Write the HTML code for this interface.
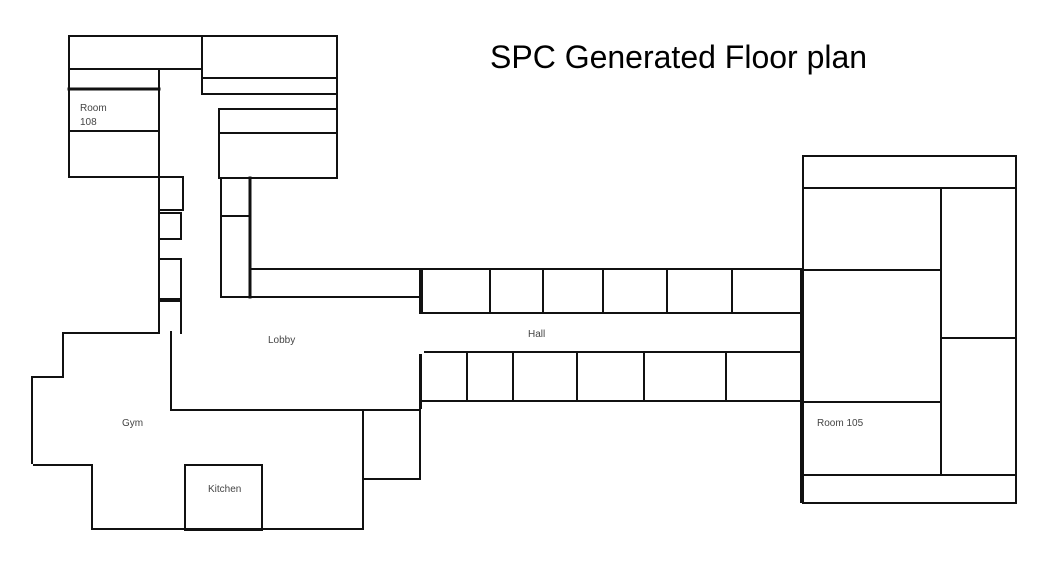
<!DOCTYPE html>
<html><head><meta charset="utf-8"><style>
html,body{margin:0;padding:0;background:#fff;}
svg{display:block}
text{font-family:"Liberation Sans",sans-serif;fill:#444;font-size:10px}
</style></head><body>
<svg width="1050" height="564" viewBox="0 0 1050 564" xmlns="http://www.w3.org/2000/svg">
<rect width="1050" height="564" fill="#fff"/>
<g stroke="#111" stroke-width="2" fill="none" stroke-linecap="square">
<path d="M69 36H337V178M69 36V177H183V210H159"/>
<path d="M69 69H202M202 36V94M202 78H336M202 94H336"/>
<path d="M69 89H159" stroke-width="3"/>
<path d="M69 131H159M159 69V333"/>
<path d="M159 213H181V239H159M159 259H181V299H159M159 301H181V333"/>
<path d="M219 109H336M219 109V177M219 133H336M219 178H337"/>
<path d="M221 178V297M221 178H250M221 216H249"/>
<path d="M250 178V297" stroke-width="3"/>
<path d="M250 269H420M221 297H420"/>
<path d="M420 269H803M422 270V313H801M420 269V313"/>
<path d="M490 270V313M543 270V313M603 270V313M667 270V313M732 270V313"/>
<path d="M425 352H801M421 355V408M421 401H801"/>
<path d="M467 352V401M513 352V401M577 352V401M644 352V401M726 352V401"/>
<path d="M803 156H1016V503H803V156M803 188H1016M803 475H1016"/>
<path d="M941 188V474M803 270H941M941 338H1016M803 402H941"/>
<path d="M801 269V502"/>
<path d="M63 333H159M63 333V377H32V463M34 465H92V529H363V410M171 332V410H420"/>
<path d="M363 479H420V355"/>
<path d="M185 465H262V530H185Z"/>
</g>
<text x="80" y="111">Room</text>
<text x="80" y="125">108</text>
<text x="268" y="343">Lobby</text>
<text x="122" y="426">Gym</text>
<text x="208" y="492">Kitchen</text>
<text x="528" y="337">Hall</text>
<text x="817" y="426">Room 105</text>
<text x="490" y="68" style="font-size:32px;fill:#000">SPC Generated Floor plan</text>
</svg>
</body></html>
